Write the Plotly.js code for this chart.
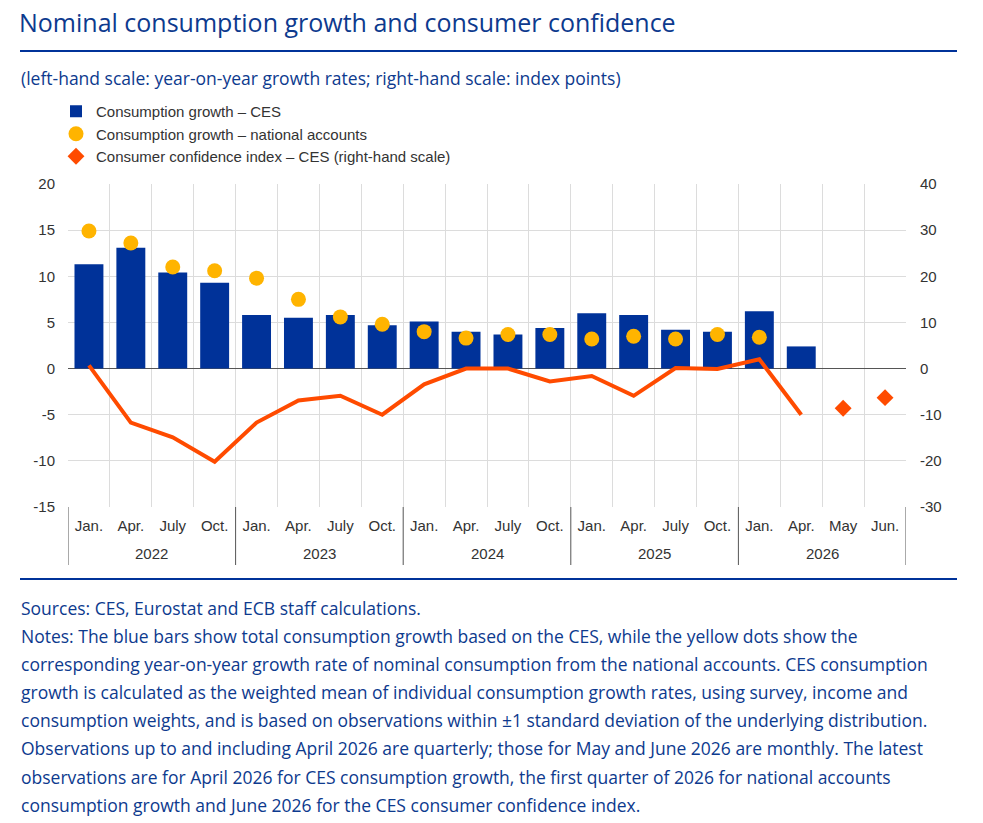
<!DOCTYPE html>
<html>
<head>
<meta charset="utf-8">
<script src="https://cdn.plot.ly/plotly-3.0.1.min.js"></script>
<style>html,body{margin:0;padding:0;background:#fff;}#chart{width:983px;height:823px;}</style>
</head>
<body>
<div id="chart"></div>
<script>
// ---- data ----
var years = ["2022","2022","2022","2022","2023","2023","2023","2023","2024","2024","2024","2024","2025","2025","2025","2025","2026","2026","2026","2026"];
var months = ["Jan.","Apr.","July","Oct.","Jan.","Apr.","July","Oct.","Jan.","Apr.","July","Oct.","Jan.","Apr.","July","Oct.","Jan.","Apr.","May","Jun."];
// Consumption growth – CES (quarterly, Jan 2022 – Apr 2026)
var cesGrowth = [11.3, 13.1, 10.4, 9.3, 5.8, 5.5, 5.8, 4.7, 5.1, 4.0, 3.7, 4.4, 6.0, 5.8, 4.2, 4.0, 6.2, 2.4, null, null];
// Consumption growth – national accounts (Jan 2022 – Jan 2026)
var naGrowth = [14.9, 13.6, 11.0, 10.6, 9.8, 7.5, 5.6, 4.8, 4.0, 3.3, 3.7, 3.7, 3.2, 3.5, 3.2, 3.7, 3.4, null, null, null];
// Consumer confidence index – CES, quarterly part (right-hand scale)
var confidence = [0.7, -11.7, -14.9, -20.2, -11.7, -6.9, -5.9, -10.0, -3.4, 0.0, 0.0, -2.8, -1.6, -5.9, 0.1, -0.1, 2.0, -10.0, null, null];
// Consumer confidence index – CES, monthly points (May, Jun. 2026)
var confMonthlyIdx = [18, 19];
var confMonthly = [-8.6, -6.3];

var leftTicks = [-15, -10, -5, 0, 5, 10, 15, 20];
var rightTicks = [-30, -20, -10, 0, 10, 20, 30, 40];

var title = "Nominal consumption growth and consumer confidence";
var subtitle = "(left-hand scale: year-on-year growth rates; right-hand scale: index points)";
var noteLines = [
  "Sources: CES, Eurostat and ECB staff calculations.",
  "Notes: The blue bars show total consumption growth based on the CES, while the yellow dots show the",
  "corresponding year-on-year growth rate of nominal consumption from the national accounts. CES consumption",
  "growth is calculated as the weighted mean of individual consumption growth rates, using survey, income and",
  "consumption weights, and is based on observations within \u00b11 standard deviation of the underlying distribution.",
  "Observations up to and including April 2026 are quarterly; those for May and June 2026 are monthly. The latest",
  "observations are for April 2026 for CES consumption growth, the first quarter of 2026 for national accounts",
  "consumption growth and June 2026 for the CES consumer confidence index."
];

// unique category keys built from the label arrays
var cats = years.map(function(y, i){ return y + " " + months[i]; });
var confMonthlyCats = confMonthlyIdx.map(function(i){ return cats[i]; });

// ---- layout helpers (pixel -> paper) ----
var W = 983, H = 823;
var L = 68, R = 906, T = 184, B = 507;
function px(p){ return (p - L) / (R - L); }
function py(p){ return (B - p) / (B - T); }

var blue = "#003299";
var textBlue = "#0d3a8e";
var arial = "Liberation Sans, Arial, sans-serif";
var tickFont = {family: arial, size: 15, color: "#333333"};
var ofont = "Open Sans, Noto Sans, sans-serif";

var traces = [
  {
    type: "bar", name: "Consumption growth \u2013 CES",
    x: cats, y: cesGrowth, yaxis: "y",
    marker: {color: blue}, width: 0.69
  },
  {
    type: "scatter", mode: "markers", name: "Consumption growth \u2013 national accounts",
    x: cats, y: naGrowth, yaxis: "y",
    marker: {color: "#FFB400", size: 15, symbol: "circle"}
  },
  {
    type: "scatter", mode: "lines", name: "confidence line", showlegend: false,
    x: cats, y: confidence, yaxis: "y2",
    line: {color: "#FF4B00", width: 4}, connectgaps: false
  },
  {
    type: "scatter", mode: "markers", name: "Consumer confidence index \u2013 CES (right-hand scale)",
    x: confMonthlyCats, y: confMonthly, yaxis: "y2",
    marker: {color: "#FF4B00", size: 13, symbol: "diamond"}
  }
];

var annotations = [
  {text: subtitle, xref: "paper", yref: "paper", x: px(19), y: py(78), xanchor: "left", yanchor: "middle",
   showarrow: false, font: {family: ofont, size: 17.5, color: textBlue}}
];
var noteY = [608, 636, 664, 692, 720, 748, 777, 805];
noteLines.forEach(function(t, i){
  annotations.push({text: t, xref: "paper", yref: "paper", x: px(19), y: py(noteY[i]), xanchor: "left", yanchor: "middle",
    showarrow: false, font: {family: ofont, size: 17.5, color: textBlue}});
});

// year group labels and dividers, placed on the category axis
var shapes = [
  {type: "line", xref: "paper", yref: "paper", x0: px(20), x1: px(957), y0: py(51), y1: py(51), line: {color: blue, width: 2}},
  {type: "line", xref: "paper", yref: "paper", x0: px(20), x1: px(957), y0: py(579), y1: py(579), line: {color: blue, width: 2}}
];
var groups = [];
years.forEach(function(y, i){
  if (!groups.length || groups[groups.length - 1].year !== y) groups.push({year: y, start: i, end: i});
  else groups[groups.length - 1].end = i;
});
groups.forEach(function(g, k){
  annotations.push({text: g.year, xref: "x", yref: "paper", x: (g.start + g.end) / 2, y: py(553),
    xanchor: "center", yanchor: "middle", showarrow: false, font: tickFont});
  shapes.push({type: "line", xref: "x", yref: "paper", x0: g.start - 0.5, x1: g.start - 0.5, y0: 0, y1: py(565),
    line: {color: "#555555", width: 1}});
  if (k === groups.length - 1)
    shapes.push({type: "line", xref: "x", yref: "paper", x0: g.end + 0.5, x1: g.end + 0.5, y0: 0, y1: py(565),
      line: {color: "#555555", width: 1}});
});

var layout = {
  width: W, height: H,
  margin: {l: L, r: W - R, t: T, b: H - B, pad: 0},
  paper_bgcolor: "#ffffff", plot_bgcolor: "#ffffff",
  title: {text: title, xref: "container", yref: "container", x: 19 / W, xanchor: "left", y: 1 - 23 / H, yanchor: "middle",
          font: {family: ofont, size: 25, color: textBlue}},
  showlegend: true,
  legend: {x: px(56), y: py(95), xanchor: "left", yanchor: "top", bgcolor: "rgba(0,0,0,0)",
           font: {family: arial, size: 15, color: "#333333"},
           tracegroupgap: 0, itemwidth: 30},
  xaxis: {
    type: "category", range: [-0.5, cats.length - 0.5], tickvals: cats, ticktext: months,
    tickson: "boundaries", showgrid: true, gridcolor: "#dcdcdc", gridwidth: 1,
    ticks: "", ticklabelstandoff: 8,
    tickfont: tickFont, showline: false, zeroline: false, fixedrange: true
  },
  yaxis: {
    range: [-15, 20], tickvals: leftTicks, ticktext: leftTicks.map(String), showgrid: true, gridcolor: "#dcdcdc",
    zeroline: true, zerolinecolor: "#555555", zerolinewidth: 1.2, tickfont: tickFont,
    ticks: "outside", ticklen: 9, tickcolor: "rgba(0,0,0,0)", showline: false, automargin: false
  },
  yaxis2: {
    overlaying: "y", side: "right", range: [-30, 40], tickvals: rightTicks, ticktext: rightTicks.map(String),
    showgrid: false, zeroline: false, tickfont: tickFont,
    ticks: "outside", ticklen: 10, tickcolor: "rgba(0,0,0,0)", showline: false, automargin: false
  },
  shapes: shapes,
  annotations: annotations
};

Plotly.newPlot("chart", traces, layout, {displayModeBar: false, staticPlot: true});
</script>
</body>
</html>
